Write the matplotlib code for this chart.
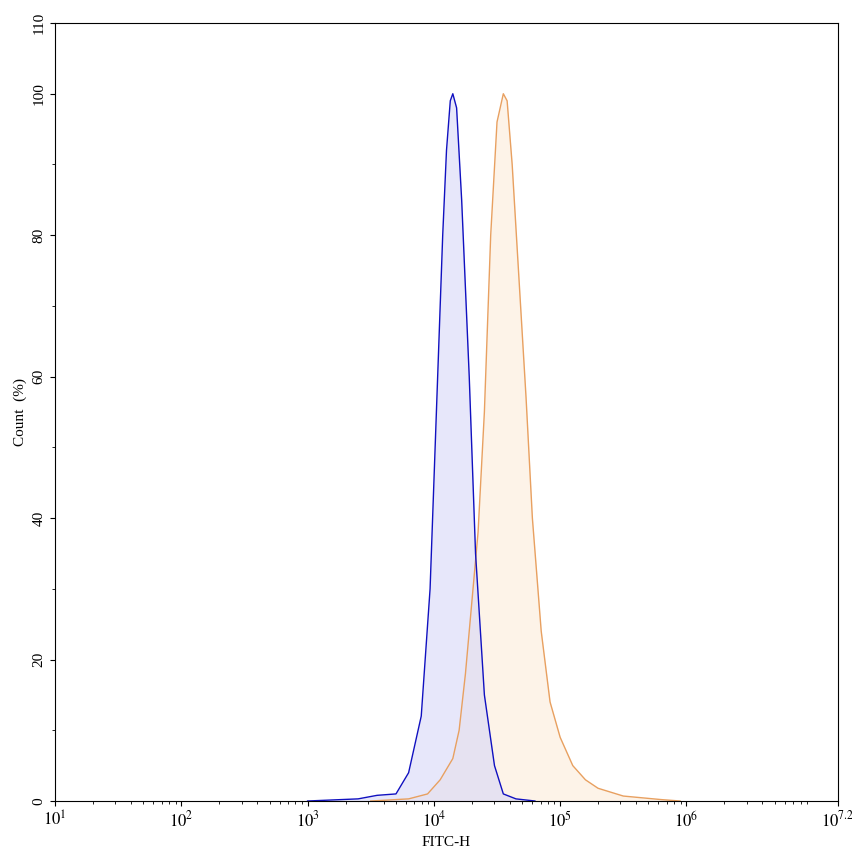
import matplotlib
matplotlib.use("Agg")
import matplotlib.pyplot as plt
import numpy as np
from matplotlib.ticker import FixedLocator, NullFormatter

plt.rcParams['font.family'] = ['Liberation Serif', 'DejaVu Serif']
plt.rcParams['mathtext.fontset'] = 'stix'

blue_logx = [3.0, 3.4, 3.55, 3.7, 3.8, 3.9, 3.97, 4.03, 4.07, 4.1, 4.13, 4.15, 4.18, 4.22, 4.28, 4.33, 4.4, 4.48, 4.55, 4.65, 4.8]
blue_y = [0, 0.3, 0.8, 1.0, 4, 12, 30, 60, 80, 92, 99, 100, 98, 85, 60, 35, 15, 5, 1, 0.3, 0]
orange_logx = [3.5, 3.8, 3.95, 4.05, 4.15, 4.2, 4.25, 4.3, 4.35, 4.4, 4.45, 4.5, 4.55, 4.58, 4.62, 4.68, 4.73, 4.78, 4.85, 4.92, 5.0, 5.1, 5.2, 5.3, 5.5, 5.8, 5.95]
orange_y = [0, 0.3, 1, 3, 6, 10, 18, 28, 38, 55, 80, 96, 100, 99, 90, 72, 57, 40, 24, 14, 9, 5, 3, 1.8, 0.7, 0.2, 0]

fig = plt.figure(figsize=(8.53, 8.56), dpi=100)
ax = fig.add_axes([55/853, 1-801/856, 783/853, 778/856])

bx = 10**np.array(blue_logx)
ox = 10**np.array(orange_logx)
ax.fill_between(ox, orange_y, color='#fdf0e3', alpha=0.8, lw=0)
ax.plot(ox, orange_y, color='#e8a060', lw=1)
ax.fill_between(bx, blue_y, color='#d8d8f8', alpha=0.6, lw=0)
ax.plot(bx, blue_y, color='#1010c0', lw=1)

ax.set_xscale('log')
ax.set_xlim(10, 10**7.2)
ax.set_ylim(0, 110)
majors = [10**i for i in range(1, 7)] + [10**7.2]
ax.xaxis.set_major_locator(FixedLocator(majors))
ax.set_xticklabels([f'$10^{{{i}}}$' for i in range(1, 7)] + ['$10^{7.2}$'])
minors = [m*10**i for i in range(1, 8) for m in range(2, 10) if m*10**i < 10**7.2]
ax.xaxis.set_minor_locator(FixedLocator(minors))
ax.xaxis.set_minor_formatter(NullFormatter())
ax.set_yticks([0, 20, 40, 60, 80, 100, 110])
ax.set_yticks([10, 30, 50, 70, 90], minor=True)
for t in ax.get_yticklabels():
    t.set_rotation(90); t.set_va('center')
ax.tick_params(axis='y', labelsize=11)
ax.tick_params(axis='x', labelsize=12)
ax.set_xlabel('FITC-H', fontsize=11)
ax.set_ylabel('Count  (%)', fontsize=11)
fig.savefig('out.png', dpi=100)
